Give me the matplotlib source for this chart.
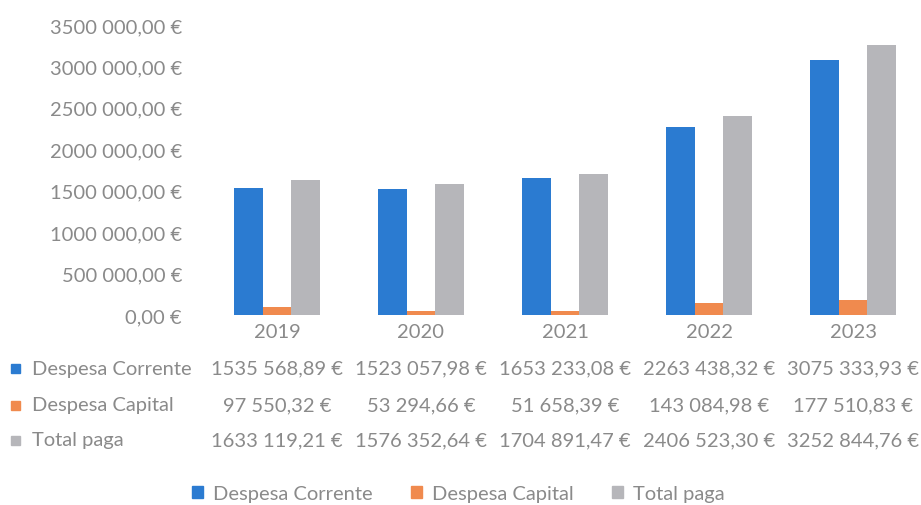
import matplotlib.pyplot as plt
from matplotlib.patches import Patch, Rectangle
from matplotlib.ticker import FuncFormatter, MultipleLocator
import matplotlib.transforms as mtransforms
import numpy as np

plt.rcParams["font.family"] = ["Lato", "DejaVu Sans"]

years = ["2019", "2020", "2021", "2022", "2023"]
series_names = ["Despesa Corrente", "Despesa Capital", "Total paga"]
despesa_corrente = [1535568.89, 1523057.98, 1653233.08, 2263438.32, 3075333.93]
despesa_capital = [97550.32, 53294.66, 51658.39, 143084.98, 177510.83]
total_paga = [1633119.21, 1576352.64, 1704891.47, 2406523.30, 3252844.76]

colors = ["#2b7bd1", "#f08a4e", "#b6b6ba"]
text_color = "#8a8a8a"
fs = 14.5


def euro(v, pos=None):
    cents = f"{v:.2f}".split(".")
    whole = cents[0]
    if len(whole) > 3:
        whole = whole[:-3] + " " + whole[-3:]
    return f"{whole},{cents[1]} €"


W, H = 921, 506
fig = plt.figure(figsize=(W / 100, H / 100), dpi=100)
ax = fig.add_axes([205 / W, 190 / H, 720 / W, 290 / H])

x = np.arange(len(years))
bw = 0.2
all_series = [despesa_corrente, despesa_capital, total_paga]
for i, vals in enumerate(all_series):
    ax.bar(x + (i - 1) * bw, vals, width=bw, color=colors[i], linewidth=0)

ax.set_xlim(-0.5, len(years) - 0.5)
ax.set_ylim(0, 3500000)
ax.yaxis.set_major_locator(MultipleLocator(500000))
ax.yaxis.set_major_formatter(FuncFormatter(euro))
ax.set_xticks(x)
ax.set_xticklabels(years)
ax.tick_params(axis="y", length=0, pad=16.5, labelsize=fs, labelcolor=text_color)
ax.tick_params(axis="x", length=0, pad=6, labelsize=fs, labelcolor=text_color)
for s in ax.spines.values():
    s.set_visible(False)

# data table under the axis
trans = mtransforms.blended_transform_factory(ax.transData, fig.transFigure)
row_y = [369, 406, 441]
for vals, name, col, ry in zip(all_series, series_names, colors, row_y):
    yf = 1 - ry / H
    for xi, v in zip(x, vals):
        ax.text(xi, yf, euro(v), transform=trans, ha="center", va="center",
                fontsize=fs, color=text_color, clip_on=False)
    fig.patches.append(Rectangle((11 / W, yf - 4.5 / H), 9 / W, 9 / H,
                                 transform=fig.transFigure, color=col))
    fig.text(32 / W, yf, name, ha="left", va="center", fontsize=fs,
             color=text_color)

handles = [Patch(color=c, label=n) for c, n in zip(colors, series_names)]
fig.legend(handles=handles, loc="center left", bbox_to_anchor=(192 / W, 1 - 495 / H),
           ncol=3, frameon=False, fontsize=fs, labelcolor=text_color,
           handlelength=0.55, handleheight=0.55, handletextpad=0.5,
           columnspacing=1.9, borderpad=0, borderaxespad=0)

fig.savefig("out.png", dpi=100)
